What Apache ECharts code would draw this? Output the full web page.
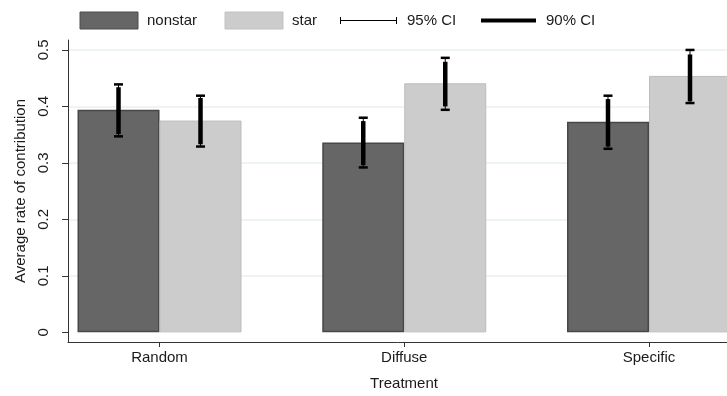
<!DOCTYPE html>
<html>
<head>
<meta charset="utf-8">
<script src="https://cdn.jsdelivr.net/npm/echarts@6/dist/echarts.min.js"></script>
<style>
html,body{margin:0;padding:0;background:#fff;}
#chart{width:727px;height:396px;}
</style>
</head>
<body>
<div id="chart"></div>
<script>
// ---- data ----
const categories = ['Random', 'Diffuse', 'Specific'];
const categoryPos = [1, 2, 3];
const yTicks = [0, 0.1, 0.2, 0.3, 0.4, 0.5];
const nonstarMean = [0.394, 0.336, 0.373];
const starMean = [0.375, 0.441, 0.454];
const nonstarCI95Low = [0.347, 0.292, 0.325];
const nonstarCI95High = [0.439, 0.380, 0.419];
const nonstarCI90Low = [0.351, 0.296, 0.329];
const nonstarCI90High = [0.434, 0.374, 0.413];
const starCI95Low = [0.329, 0.394, 0.406];
const starCI95High = [0.419, 0.486, 0.500];
const starCI90Low = [0.333, 0.400, 0.409];
const starCI90High = [0.415, 0.479, 0.492];

const FONT = '"Liberation Sans", Arial, Helvetica, sans-serif';
const TXT = '#1a1a1a';
const BARW = 82;

const chart = echarts.init(document.getElementById('chart'), null, {renderer: 'canvas'});

function ciData(lo95, hi95, lo90, hi90) {
  return categoryPos.map((x, i) => [x, lo95[i], hi95[i], lo90[i], hi90[i]]);
}
function ciRender(offset) {
  return function (params, api) {
    const x = api.value(0);
    const p95l = api.coord([x, api.value(1)]);
    const p95h = api.coord([x, api.value(2)]);
    const p90l = api.coord([x, api.value(3)]);
    const p90h = api.coord([x, api.value(4)]);
    const cx = p95l[0] + offset;
    const capHalf = 4.5;
    const black = '#000';
    return {
      type: 'group',
      children: [
        {type: 'line', shape: {x1: cx, y1: p95l[1], x2: cx, y2: p95h[1]}, style: {stroke: black, lineWidth: 1}},
        {type: 'line', shape: {x1: cx - capHalf, y1: p95l[1], x2: cx + capHalf, y2: p95l[1]}, style: {stroke: black, lineWidth: 2.5}},
        {type: 'line', shape: {x1: cx - capHalf, y1: p95h[1], x2: cx + capHalf, y2: p95h[1]}, style: {stroke: black, lineWidth: 2.5}},
        {type: 'line', shape: {x1: cx, y1: p90l[1], x2: cx, y2: p90h[1]}, style: {stroke: black, lineWidth: 4.5}}
      ]
    };
  };
}

const option = {
  animation: false,
  backgroundColor: '#fff',
  grid: {left: 68, right: 0, top: 40, bottom: 52, containLabel: false},
  xAxis: {
    type: 'value',
    min: 0.6261,
    max: 3.3187,
    name: 'Treatment',
    nameLocation: 'middle',
    nameGap: 34,
    nameTextStyle: {fontFamily: FONT, fontSize: 15, color: TXT, padding: [0, 0, 0, 13]},
    axisLine: {show: true, onZero: false, lineStyle: {color: '#333', width: 1}},
    axisTick: {show: true, length: 5, lineStyle: {color: '#333'}, customValues: categoryPos},
    axisLabel: {
      customValues: categoryPos,
      margin: 8,
      fontFamily: FONT, fontSize: 15, color: TXT,
      formatter: v => categories[Math.round(v) - 1]
    },
    splitLine: {show: false}
  },
  yAxis: {
    type: 'value',
    min: -0.01706,
    max: 0.5176,
    name: 'Average rate of contribution',
    nameLocation: 'middle',
    nameRotate: 90,
    nameGap: 38,
    nameTextStyle: {fontFamily: FONT, fontSize: 15, color: TXT},
    axisLine: {show: true, onZero: false, lineStyle: {color: '#333', width: 1}},
    axisTick: {show: true, length: 6, lineStyle: {color: '#333'}, customValues: yTicks},
    axisLabel: {
      customValues: yTicks,
      rotate: 90,
      margin: 17,
      fontFamily: FONT, fontSize: 15, color: TXT,
      formatter: v => (Math.abs(v) < 1e-9 ? '0' : String(Math.round(v * 10) / 10))
    },
    splitLine: {show: true, lineStyle: {color: ['rgba(0,0,0,0)', '#e8f0f2', '#e8f0f2', '#e8f0f2', '#e8f0f2', '#e8f0f2'], width: 1.5}}
  },
  series: [
    {
      name: 'nonstar', type: 'bar', barWidth: BARW, barGap: '0%',
      itemStyle: {color: '#666666', borderColor: '#474747', borderWidth: 1.5},
      data: categoryPos.map((x, i) => [x, nonstarMean[i]]),
      z: 2
    },
    {
      name: 'star', type: 'bar', barWidth: BARW, barGap: '0%',
      itemStyle: {color: '#cccccc', borderColor: '#bdbdbd', borderWidth: 1},
      data: categoryPos.map((x, i) => [x, starMean[i]]),
      z: 2
    },
    {
      name: 'nonstar CI', type: 'custom', renderItem: ciRender(-BARW / 2),
      data: ciData(nonstarCI95Low, nonstarCI95High, nonstarCI90Low, nonstarCI90High),
      encode: {x: 0, y: [1, 2, 3, 4]}, z: 5, clip: false
    },
    {
      name: 'star CI', type: 'custom', renderItem: ciRender(BARW / 2),
      data: ciData(starCI95Low, starCI95High, starCI90Low, starCI90High),
      encode: {x: 0, y: [1, 2, 3, 4]}, z: 5, clip: false
    }
  ],
  graphic: [
    {type: 'rect', shape: {x: 80, y: 12, width: 58, height: 17}, style: {fill: '#666666', stroke: '#4d4d4d', lineWidth: 1}},
    {type: 'text', x: 147, y: 20.5, style: {text: 'nonstar', font: '15px ' + FONT, fill: TXT, textVerticalAlign: 'middle'}},
    {type: 'rect', shape: {x: 225, y: 12, width: 58, height: 17}, style: {fill: '#cccccc', stroke: '#c2c2c2', lineWidth: 1}},
    {type: 'text', x: 292, y: 20.5, style: {text: 'star', font: '15px ' + FONT, fill: TXT, textVerticalAlign: 'middle'}},
    {type: 'line', shape: {x1: 340, y1: 20.5, x2: 397, y2: 20.5}, style: {stroke: '#000', lineWidth: 1}},
    {type: 'line', shape: {x1: 340.5, y1: 17, x2: 340.5, y2: 24}, style: {stroke: '#000', lineWidth: 1}},
    {type: 'line', shape: {x1: 396.5, y1: 17, x2: 396.5, y2: 24}, style: {stroke: '#000', lineWidth: 1}},
    {type: 'text', x: 407, y: 20.5, style: {text: '95% CI', font: '15px ' + FONT, fill: TXT, textVerticalAlign: 'middle'}},
    {type: 'line', shape: {x1: 481, y1: 20.5, x2: 536, y2: 20.5}, style: {stroke: '#000', lineWidth: 4}},
    {type: 'text', x: 546, y: 20.5, style: {text: '90% CI', font: '15px ' + FONT, fill: TXT, textVerticalAlign: 'middle'}}
  ]
};
chart.setOption(option);
</script>
</body>
</html>
